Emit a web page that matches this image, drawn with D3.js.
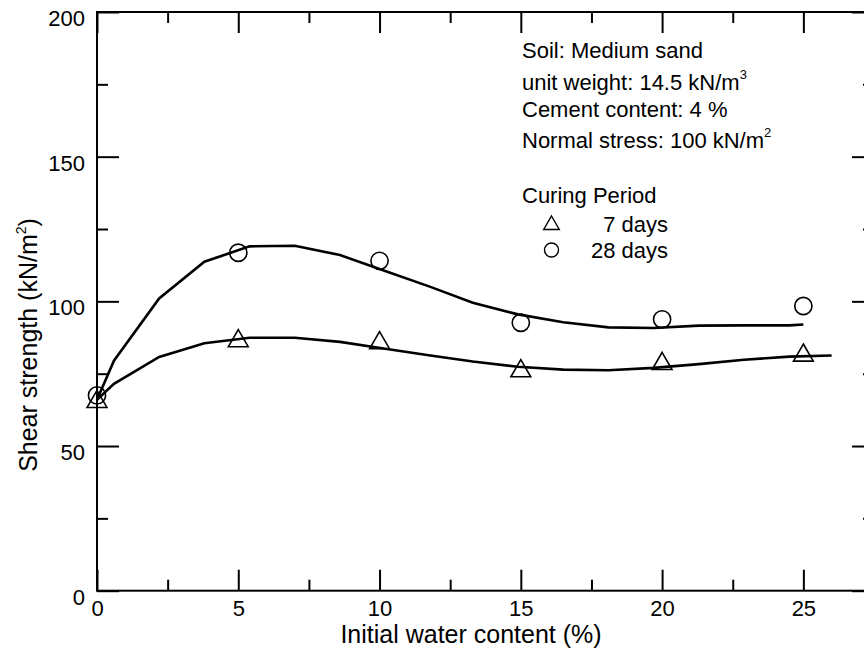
<!DOCTYPE html>
<html>
<head>
<meta charset="utf-8">
<script src="https://cdn.jsdelivr.net/npm/d3@7"></script>
<style>
  body { margin: 0; background: #fff; }
  svg text { font-family: "Liberation Sans", Arial, sans-serif; fill: #000; }
</style>
</head>
<body>
<div id="chart"></div>
<script>
// measured points (initial water content %, shear strength kN/m2)
var waterContent = [0, 5, 10, 15, 20, 25];
var strength7 = [66, 87, 86.3, 76.6, 79.1, 82];
var strength28 = [67.5, 116.8, 114, 92.6, 93.8, 98.4];

// fitted curves
var curveX7 = [0, 0.6, 2.2, 3.8, 5.4, 7.0, 8.6, 10.2, 11.8, 13.3, 14.9, 16.5, 18.1, 19.7, 21.3, 22.9, 24.5, 26];
var curveY7 = [66, 71.5, 80.8, 85.5, 87.4, 87.4, 86, 83.6, 81.3, 79.2, 77.4, 76.4, 76.2, 77, 78.3, 79.8, 80.9, 81.3];
var curveX28 = [0, 0.6, 2.2, 3.8, 5.4, 7.0, 8.6, 10.2, 11.8, 13.3, 14.9, 16.5, 18.1, 19.7, 21.3, 22.9, 24.5, 25];
var curveY28 = [66, 79.5, 101, 113.7, 119, 119.2, 116, 110.5, 105, 99.5, 95.5, 92.8, 91, 90.8, 91.6, 91.7, 91.7, 92];

var xMajor = [0, 5, 10, 15, 20, 25];
var xMinor = [2.5, 7.5, 12.5, 17.5, 22.5, 27.5];
var yMajor = [0, 50, 100, 150, 200];
var yMinor = [25, 75, 125, 175];

var width = 864, height = 651;
var plotLeft = 97, plotRight = 874, plotTop = 12, plotBottom = 590.7;

var svg = d3.select("#chart").append("svg")
    .attr("width", width)
    .attr("height", height);

var x = d3.scaleLinear().domain([0, 27.5]).range([plotLeft, plotRight]);
var y = d3.scaleLinear().domain([0, 200]).range([plotBottom, plotTop]);

// inward ticks on all four sides
function ticks(axisFn, scale, vals, size, tr, labels) {
    var ax = axisFn(scale).tickValues(vals).tickSizeInner(-size).tickSizeOuter(0)
        .tickFormat(labels ? d3.format("d") : "");
    var g = svg.append("g").attr("transform", tr).call(ax);
    g.select(".domain").remove();
    g.selectAll(".tick line").attr("stroke", "#000").attr("stroke-width", 2);
    return g;
}

var gx = ticks(d3.axisBottom, x, xMajor, 21, "translate(0," + plotBottom + ")", true);
ticks(d3.axisBottom, x, xMinor, 11, "translate(0," + plotBottom + ")", false);
ticks(d3.axisTop, x, xMajor, 21, "translate(0," + plotTop + ")", false);
ticks(d3.axisTop, x, xMinor, 11, "translate(0," + plotTop + ")", false);
var gy = ticks(d3.axisLeft, y, yMajor, 22, "translate(" + plotLeft + ",0)", true);
ticks(d3.axisLeft, y, yMinor, 11, "translate(" + plotLeft + ",0)", false);
ticks(d3.axisRight, y, yMajor, 22, "translate(" + plotRight + ",0)", false);
ticks(d3.axisRight, y, yMinor, 11, "translate(" + plotRight + ",0)", false);

gx.selectAll(".tick text")
    .attr("y", 25).attr("dy", 0)
    .style("font-size", "22px");
gy.selectAll(".tick text")
    .attr("x", -12).attr("dy", "0.62em")
    .style("font-size", "22px");

// frame
svg.append("rect")
    .attr("x", plotLeft).attr("y", plotTop)
    .attr("width", plotRight - plotLeft).attr("height", plotBottom - plotTop)
    .attr("fill", "none").attr("stroke", "#000").attr("stroke-width", 2);

// curves
var line = d3.line().x(function(d) { return x(d[0]); }).y(function(d) { return y(d[1]); });
svg.append("path")
    .datum(d3.zip(curveX28, curveY28))
    .attr("d", line)
    .attr("fill", "none").attr("stroke", "#000").attr("stroke-width", 2.6);
svg.append("path")
    .datum(d3.zip(curveX7, curveY7))
    .attr("d", line)
    .attr("fill", "none").attr("stroke", "#000").attr("stroke-width", 2.6);

// markers
var tri = d3.symbol().type(d3.symbolTriangle).size(170);
svg.selectAll(".tri")
    .data(d3.zip(waterContent, strength7))
    .enter().append("path")
    .attr("class", "tri")
    .attr("d", tri)
    .attr("transform", function(d) { return "translate(" + x(d[0]) + "," + (y(d[1]) + 2) + ")"; })
    .attr("fill", "none").attr("stroke", "#000").attr("stroke-width", 1.6);
svg.selectAll(".circ")
    .data(d3.zip(waterContent, strength28))
    .enter().append("circle")
    .attr("class", "circ")
    .attr("cx", function(d) { return x(d[0]); })
    .attr("cy", function(d) { return y(d[1]); })
    .attr("r", 8.6)
    .attr("fill", "none").attr("stroke", "#000").attr("stroke-width", 1.6);

// axis titles
svg.append("text")
    .attr("x", 471).attr("y", 643)
    .attr("text-anchor", "middle")
    .style("font-size", "25px")
    .text("Initial water content (%)");

var yt = svg.append("text")
    .attr("transform", "translate(37,345) rotate(-90)")
    .attr("text-anchor", "middle")
    .style("font-size", "25px");
yt.append("tspan").text("Shear strength (kN/m");
yt.append("tspan").attr("dy", -11).style("font-size", "14px").text("2");
yt.append("tspan").attr("dy", 11).text(")");

// annotation block
var notes = svg.append("g").attr("transform", "translate(522,0)").style("font-size", "22px");
notes.append("text").attr("y", 58).text("Soil: Medium sand");
var t2 = notes.append("text").attr("y", 90);
t2.append("tspan").text("unit weight: 14.5 kN/m");
t2.append("tspan").attr("dy", -11).style("font-size", "13px").text("3");
notes.append("text").attr("y", 117).text("Cement content: 4 %");
var t4 = notes.append("text").attr("y", 148);
t4.append("tspan").text("Normal stress: 100 kN/m");
t4.append("tspan").attr("dy", -11).style("font-size", "13px").text("2");
notes.append("text").attr("y", 203).text("Curing Period");

// legend
var legendLabels = ["7 days", "28 days"];
var legendY = [232, 258];
notes.selectAll(".lab")
    .data(legendLabels)
    .enter().append("text")
    .attr("class", "lab")
    .attr("x", 146).attr("y", function(d, i) { return legendY[i]; })
    .attr("text-anchor", "end")
    .text(function(d) { return d; });
notes.append("path")
    .attr("d", d3.symbol().type(d3.symbolTriangle).size(105))
    .attr("transform", "translate(29.5," + (legendY[0] - 7) + ")")
    .attr("fill", "none").attr("stroke", "#000").attr("stroke-width", 1.4);
notes.append("circle")
    .attr("cx", 29.5).attr("cy", legendY[1] - 8).attr("r", 7)
    .attr("fill", "none").attr("stroke", "#000").attr("stroke-width", 1.4);
</script>
</body>
</html>
